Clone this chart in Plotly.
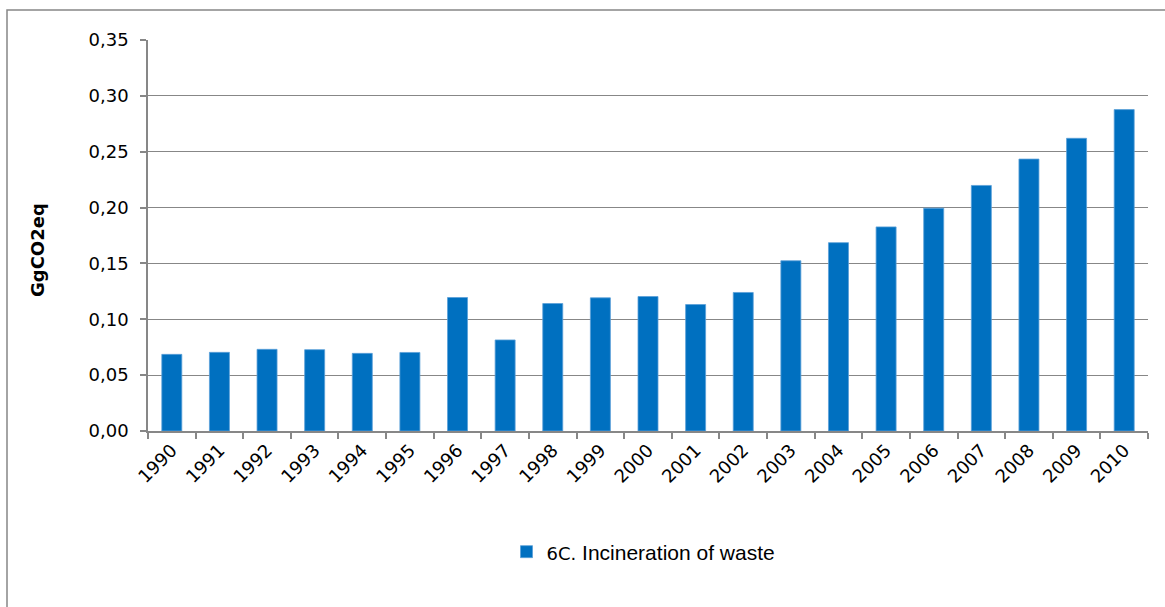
import plotly.graph_objects as go

years = [str(y) for y in range(1990, 2011)]
values = [0.0686, 0.0704, 0.0731, 0.0728, 0.0695, 0.0703, 0.1195, 0.0815, 0.1141, 0.1192,
          0.1204, 0.1132, 0.1240, 0.1524, 0.1686, 0.1827, 0.1995, 0.2198, 0.2434, 0.2620, 0.2877]
series_name = '<span style="font-family:DejaVu Sans;font-size:18px">6C.</span> Incineration of waste'
y_title = "GgCO2eq"

W, H = 1165, 607
L, R, T, B = 148, 17, 40, 176
pw, ph = W - L - R, H - T - B

grey = "#878787"

fig = go.Figure()
fig.add_trace(go.Bar(
    x=years, y=values, name=series_name,
    marker=dict(color="#0070C0", line=dict(color="#5aa0d8", width=0.8)),
    showlegend=True,
))

fig.update_layout(
    width=W, height=H,
    margin=dict(l=L, r=R, t=T, b=B, autoexpand=False),
    paper_bgcolor="white", plot_bgcolor="white",
    separators=",.",
    bargap=0.58,
    font=dict(family="DejaVu Sans", size=18, color="black"),
    showlegend=True,
    legend=dict(
        x=(528.5 - 22 - L) / pw, xanchor="left",
        y=(T + ph - 552) / ph, yanchor="middle",
        font=dict(family="Liberation Sans", size=21, color="black"),
        bgcolor="rgba(0,0,0,0)",
    ),
    xaxis=dict(
        type="category",
        showline=True, linecolor=grey, linewidth=1.5,
        ticks="outside", tickson="boundaries", ticklen=6, tickcolor=grey, tickwidth=1.5,
        tickangle=-45,
        tickfont=dict(family="DejaVu Sans", size=18, color="black"),
        showgrid=False,
    ),
    yaxis=dict(
        range=[0, 0.35], dtick=0.05, tickformat=".2f",
        showline=True, linecolor=grey, linewidth=1.5,
        ticks="outside", ticklen=6, tickcolor=grey, tickwidth=1.5,
        ticklabelstandoff=8,
        showgrid=True, gridcolor=grey, gridwidth=1.3,
        tickfont=dict(family="DejaVu Sans", size=18, color="black"),
        zeroline=False,
    ),
    annotations=[dict(
        text="<b>" + y_title + "</b>", textangle=-90,
        xref="paper", yref="paper",
        x=(37 - L) / pw, y=(T + ph - 250) / ph,
        xanchor="center", yanchor="middle", showarrow=False,
        font=dict(family="DejaVu Sans", size=18, color="black"),
    )],
    shapes=[dict(
        type="path", xref="paper", yref="paper",
        path="M {x0},{y0} L {x0},{y1} L {x2},{y1}".format(
            x0=(7 - L) / pw, y0=(T + ph - 620) / ph,
            y1=(T + ph - 10) / ph, x2=(1180 - L) / pw),
        line=dict(color=grey, width=1.5),
    )],
)

fig.write_html("out.html", config={"displayModeBar": False},
               post_script="document.body.style.margin='0';")
